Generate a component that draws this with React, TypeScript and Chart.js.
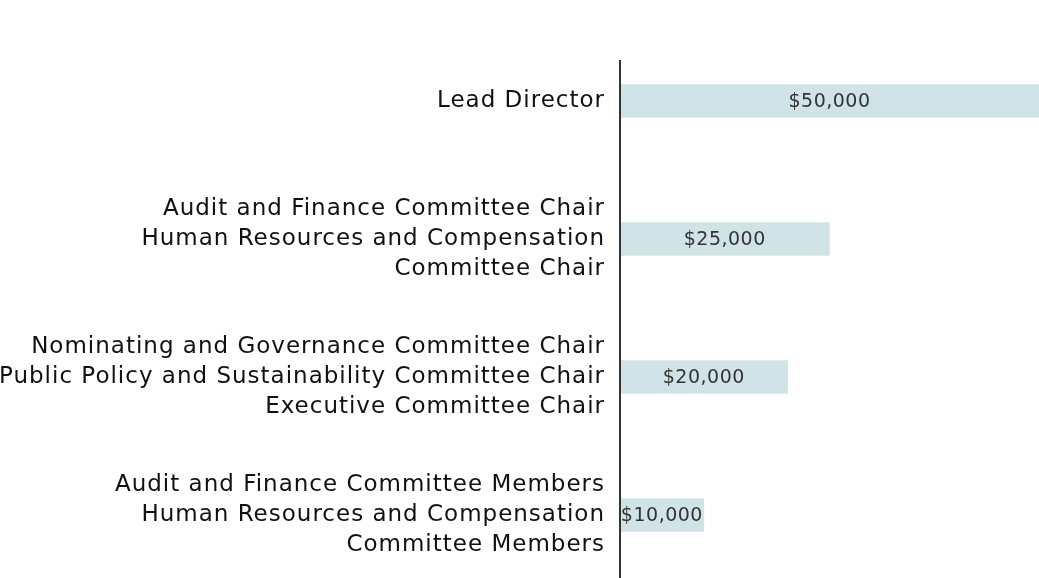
import React, { useRef, useEffect } from "react";
import { Chart, registerables } from "chart.js";

Chart.register(...registerables);

const categories: string[][] = [
  ["Lead Director"],
  ["Audit and Finance Committee Chair", "Human Resources and Compensation", "Committee Chair"],
  [
    "Nominating and Governance Committee Chair",
    "Public Policy and Sustainability Committee Chair",
    "Executive Committee Chair",
  ],
  ["Audit and Finance Committee Members", "Human Resources and Compensation", "Committee Members"],
];

const retainers = [50000, 25000, 20000, 10000];

const FONT = "'DejaVu Sans', sans-serif";

const money = (v: number) => "$" + v.toLocaleString("en-US");

// a bit of tracking so the labels get closer to the original typeface
const tracking = {
  id: "tracking",
  beforeDraw(chart: any) {
    chart.ctx.letterSpacing = "1px";
  },
  afterDraw(chart: any) {
    chart.ctx.letterSpacing = "0px";
  },
};

// draws the value in the middle of each bar
const barLabels = {
  id: "barLabels",
  afterDatasetsDraw(chart: any) {
    const ctx = chart.ctx;
    const meta = chart.getDatasetMeta(0);
    ctx.save();
    ctx.letterSpacing = "0.5px";
    ctx.font = `19px ${FONT}`;
    ctx.fillStyle = "#333333";
    ctx.textAlign = "center";
    ctx.textBaseline = "middle";
    meta.data.forEach((bar: any, i: number) => {
      const cx = (bar.base + bar.x) / 2;
      ctx.fillText(money(retainers[i]), cx, bar.y + 1);
    });
    ctx.restore();
  },
};

// vertical axis line that starts a little below the top of the plot
const axisLine = {
  id: "axisLine",
  afterDatasetsDraw(chart: any) {
    const { ctx, chartArea } = chart;
    ctx.save();
    ctx.strokeStyle = "#333333";
    ctx.lineWidth = 2;
    ctx.beginPath();
    ctx.moveTo(chartArea.left, chartArea.top + 28);
    ctx.lineTo(chartArea.left, chartArea.bottom);
    ctx.stroke();
    ctx.restore();
  },
};

const RetainerChart: React.FC = () => {
  const chartRef = useRef<HTMLCanvasElement | null>(null);

  useEffect(() => {
    const config: any = {
      type: "bar",
      data: {
        labels: categories,
        datasets: [
          {
            data: retainers,
            backgroundColor: "#d0e4e8",
            barThickness: 33,
            borderWidth: 0,
          },
        ],
      },
      options: {
        indexAxis: "y",
        animation: false,
        responsive: true,
        maintainAspectRatio: false,
        layout: { padding: { top: 32, right: 0, bottom: 0, left: 0 } },
        plugins: {
          legend: { display: false },
          tooltip: { enabled: false },
        },
        scales: {
          x: {
            display: false,
            min: 0,
            max: 50000,
          },
          y: {
            afterFit: (scale: any) => {
              scale.width = 620;
              scale.paddingTop = 0;
              scale.paddingBottom = 0;
            },
            border: { display: false },
            grid: { display: false, drawTicks: false },
            ticks: {
              color: "#111111",
              padding: 15,
              font: { family: FONT, size: 23, lineHeight: 30 / 23 },
            },
          },
        },
      },
      plugins: [tracking, barLabels, axisLine],
    };

    const myChart = new Chart(chartRef.current!.getContext("2d")!, config);

    return () => {
      myChart.destroy();
    };
  }, []);

  return (
    <div style={{ position: "fixed", left: 0, top: 0, width: "1039px", height: "584px", background: "#fff" }}>
      <canvas ref={chartRef}></canvas>
    </div>
  );
};

export default function App() {
  return <RetainerChart />;
}
